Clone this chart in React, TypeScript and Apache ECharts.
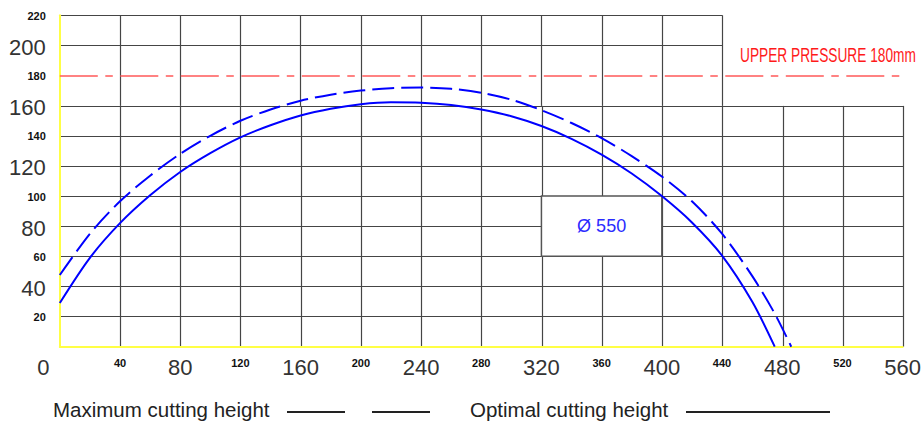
import React, { useEffect, useRef } from 'react';
import * as echarts from 'echarts';

// ---- data ----
const optimalX = [0, 20, 40, 60, 80, 100, 120, 140, 160, 180, 200, 220, 240, 260, 280, 300, 320, 340, 360, 380, 400, 420, 440, 460, 475];
const optimalY = [29, 59, 82, 100.5, 116, 128.5, 139, 147, 153.5, 158, 161, 162.3, 162, 160.5, 157.5, 153, 146.5, 138, 127.5, 115, 100, 82.5, 60.5, 30, 0];

const maximumX = [0, 20, 40, 60, 80, 100, 120, 140, 160, 180, 200, 220, 240, 260, 280, 300, 320, 340, 360, 380, 400, 420, 440, 460, 475, 486];
const maximumY = [47.6, 75, 96.5, 113.5, 128, 140, 150, 157.5, 163.3, 167.3, 170, 171.6, 172, 171.2, 168.6, 164, 157, 148.5, 138.5, 126.5, 113, 96.5, 75, 47, 22, 0];

const upperPressure = 180;
const pressureLabel = 'UPPER PRESSURE 180mm';
const boxLabel = 'Ø 550';
const boxFrom = [320, 100];
const boxTo = [400, 60];
const legendLabels = ['Maximum cutting height', 'Optimal cutting height'];

const SANS = '"Liberation Sans", Arial, sans-serif';
const GRID = '#454545';
const YELLOW = '#ffff45';

export default function App() {
  const ref = useRef<HTMLDivElement>(null);

  useEffect(() => {
    document.body.style.margin = '0';
    const chart = echarts.init(ref.current!, undefined, { renderer: 'svg' });
    const L = 59.8, R = 20.7, T = 15.3, B = 78.3;
    const upperW = 662.6;

    const hiddenAxis = {
      axisLine: { show: false },
      axisTick: { show: false },
      axisLabel: { show: false },
    };
    const split = (showMin: boolean) => ({
      show: true,
      showMinLine: showMin,
      showMaxLine: true,
      lineStyle: { color: GRID, width: 1.2 },
    });

    const option: any = {
      animation: false,
      backgroundColor: '#fff',
      grid: [
        { left: L, right: R, top: T, bottom: B },
        { left: L, right: R, top: 105.9, bottom: B },
        { left: L, top: T, width: upperW, height: 90.6 },
        { left: L, top: T, width: upperW, height: 30.2 },
      ],
      xAxis: [
        {
          gridIndex: 0, type: 'value', min: 0, max: 560, interval: 40,
          axisLine: { show: true, lineStyle: { color: YELLOW, width: 2 } },
          axisTick: { show: false },
          splitLine: { show: false },
          axisLabel: {
            margin: 8,
            verticalAlign: 'top',
            formatter: (v: number) =>
              v === 0 ? '{zero|0}' : v % 80 === 0 ? `{big|${v}}` : `{small|${v}}`,
            rich: {
              big: { fontSize: 22, fontFamily: SANS, color: '#333', lineHeight: 25 },
              zero: { fontSize: 22, fontFamily: SANS, color: '#333', lineHeight: 25, padding: [0, 33, 0, 0] },
              small: { fontSize: 11, fontFamily: SANS, fontWeight: 'bold', color: '#111', lineHeight: 12, padding: [5, 0, 0, 0] },
            },
          },
        },
        { gridIndex: 1, type: 'value', min: 0, max: 560, interval: 40, ...hiddenAxis, splitLine: split(false) },
        { gridIndex: 2, type: 'value', min: 0, max: 440, interval: 40, ...hiddenAxis, splitLine: split(false) },
        { gridIndex: 3, type: 'value', min: 0, max: 440, interval: 40, ...hiddenAxis, splitLine: { show: false } },
      ],
      yAxis: [
        {
          gridIndex: 0, type: 'value', min: 0, max: 220, interval: 20,
          axisLine: { show: true, lineStyle: { color: YELLOW, width: 2 } },
          axisTick: { show: false },
          splitLine: { show: false },
          axisLabel: {
            margin: 14,
            formatter: (v: number) =>
              v === 0 ? '' : v % 40 === 0 ? `{big|${v}}` : `{small|${v}}`,
            rich: {
              big: { fontSize: 22, fontFamily: SANS, color: '#333', padding: [4, 0, 0, 0] },
              small: { fontSize: 11, fontFamily: SANS, fontWeight: 'bold', color: '#111', padding: [1, 0, 0, 0] },
            },
          },
        },
        { gridIndex: 1, type: 'value', min: 0, max: 160, interval: 20, ...hiddenAxis, splitLine: split(false) },
        { gridIndex: 2, type: 'value', min: 160, max: 220, interval: 20, ...hiddenAxis, splitLine: { show: false } },
        { gridIndex: 3, type: 'value', min: 200, max: 220, interval: 20, ...hiddenAxis, splitLine: split(true) },
      ],
      series: [
        {
          name: legendLabels[1],
          type: 'line',
          xAxisIndex: 0,
          yAxisIndex: 0,
          data: optimalX.map((x, i) => [x, optimalY[i]]),
          smooth: 0.3,
          showSymbol: false,
          lineStyle: { color: '#0000ff', width: 2 },
          z: 5,
          markArea: {
            silent: true,
            itemStyle: { color: '#fff', borderColor: '#555', borderWidth: 1.5 },
            label: {
              show: true,
              position: 'inside',
              color: '#2b2bff',
              fontSize: 18,
              fontFamily: SANS,
            },
            data: [[{ coord: boxFrom, name: boxLabel }, { coord: boxTo }]],
          },
          markLine: {
            silent: true,
            symbol: 'none',
            label: { show: false },
            lineStyle: { color: '#ff5a5a', width: 1.5, type: [38, 7.5, 7.5, 7.5] },
            data: [{ yAxis: upperPressure }],
          },
        },
        {
          name: legendLabels[0],
          type: 'line',
          xAxisIndex: 0,
          yAxisIndex: 0,
          data: maximumX.map((x, i) => [x, maximumY[i]]),
          smooth: 0.3,
          showSymbol: false,
          lineStyle: { color: '#0000ff', width: 2, type: [22, 7] },
          z: 5,
        },
      ],
      graphic: [
        {
          type: 'text', x: 740, y: 55, scaleX: 0.686,
          style: { text: pressureLabel, fill: '#ff1a1a', fontSize: 20, fontFamily: SANS, verticalAlign: 'middle' },
        },
        {
          type: 'text', x: 53, y: 409,
          style: { text: legendLabels[0], fill: '#222', fontSize: 20.5, fontFamily: SANS, verticalAlign: 'middle' },
        },
        { type: 'line', shape: { x1: 287, y1: 412, x2: 345, y2: 412 }, style: { stroke: '#222', lineWidth: 2 } },
        { type: 'line', shape: { x1: 372, y1: 412, x2: 430, y2: 412 }, style: { stroke: '#222', lineWidth: 2 } },
        {
          type: 'text', x: 470, y: 409,
          style: { text: legendLabels[1], fill: '#222', fontSize: 20.5, fontFamily: SANS, verticalAlign: 'middle' },
        },
        { type: 'line', shape: { x1: 686, y1: 412, x2: 830, y2: 412 }, style: { stroke: '#222', lineWidth: 2 } },
      ],
    };

    chart.setOption(option);
    return () => chart.dispose();
  }, []);

  return <div ref={ref} style={{ width: 924, height: 425 }} />;
}
